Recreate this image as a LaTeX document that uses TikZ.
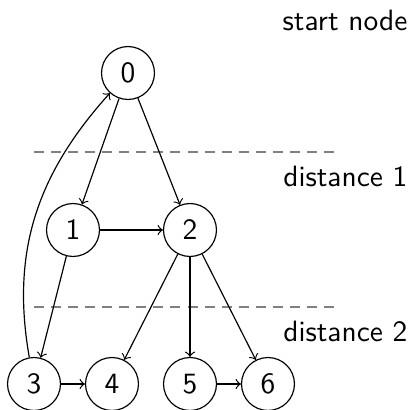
\documentclass[tikz,border=0pt]{standalone}
\usetikzlibrary{arrows}
\begin{document}
\begin{tikzpicture}[x=0.34pt,y=-0.34pt,font=\sffamily,
  vert/.style={draw,circle,minimum size=18pt,inner sep=0pt,font=\sffamily},
  edge/.style={->,thin},
  level/.style={gray,line width=0.7pt,dash pattern=on 3.4pt off 2.4pt},
  lbl/.style={anchor=east,inner sep=0pt,font=\sffamily}]
\useasboundingbox (0,0) rectangle (411,410);
\node[vert] (n0) at (128,73) {0};
\node[vert] (n1) at (73,230) {1};
\node[vert] (n2) at (190,230) {2};
\node[vert] (n3) at (34,384) {3};
\node[vert] (n4) at (112,384) {4};
\node[vert] (n5) at (190,384) {5};
\node[vert] (n6) at (268,384) {6};
\coordinate (d1a) at (34,152); \coordinate (d1b) at (340,152);
\coordinate (d2a) at (34,307); \coordinate (d2b) at (340,307);
\draw[level] (d1a) -- (d1b);
\draw[level] (d2a) -- (d2b);
\node[lbl] (t0) at (408,20) {start node};
\node[lbl] (t1) at (408,176) {distance 1};
\node[lbl] (t2) at (408,331) {distance 2};
\draw[edge] (n0) -- (n1);
\draw[edge] (n0) -- (n2);
\draw[edge] (n1) -- (n2);
\draw[edge] (n1) -- (n3);
\draw[edge] (n2) -- (n4);
\draw[edge] (n2) -- (n5);
\draw[edge] (n2) -- (n6);
\draw[edge] (n3) -- (n4);
\draw[edge] (n5) -- (n6);
\draw[edge] (n3) to[out=100,in=228] (n0);
\end{tikzpicture}
\end{document}
